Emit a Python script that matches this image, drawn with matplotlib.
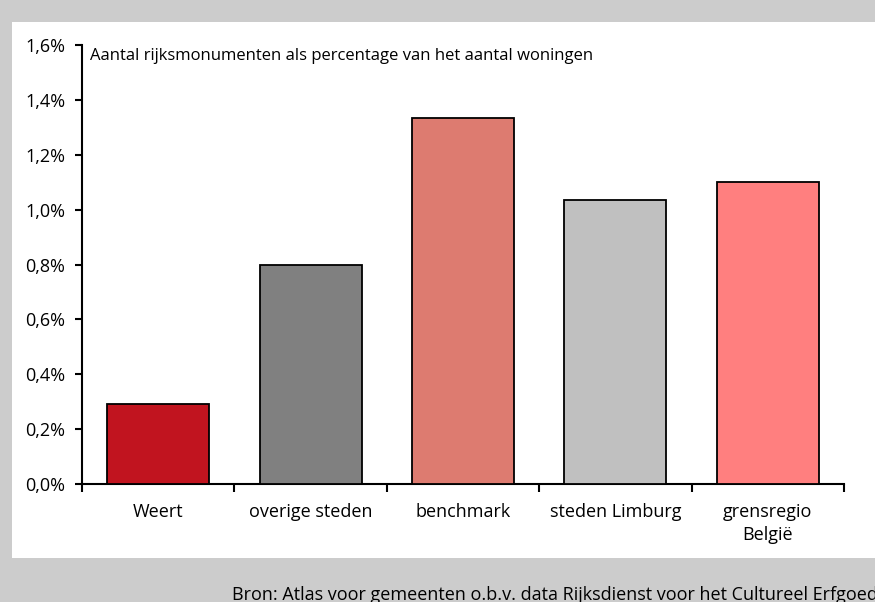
import matplotlib.pyplot as plt
from matplotlib.patches import Rectangle
from matplotlib.ticker import FuncFormatter, FixedLocator

plt.rcParams['font.family'] = ['Open Sans', 'DejaVu Sans']

categories = ["Weert", "overige steden", "benchmark", "steden Limburg", "grensregio\nBelgië"]
values = [0.29, 0.80, 1.335, 1.035, 1.10]
colors = ["#C1141F", "#808080", "#DD7B70", "#C0C0C0", "#FF7F7F"]

W, H = 875, 602
fig = plt.figure(figsize=(W / 100, H / 100), dpi=100)
fig.patch.set_facecolor("#CCCCCC")

# white panel
fig.patches.append(Rectangle((12 / W, (H - 558) / H), 1 - 12 / W, (558 - 22) / H,
                             transform=fig.transFigure, facecolor="white",
                             edgecolor="none", zorder=0))

ax = fig.add_axes([82 / W, (H - 484) / H, 762 / W, 439 / H])
ax.set_zorder(2)
ax.set_facecolor("none")

x = range(len(categories))
ax.bar(x, values, width=0.67, color=colors, edgecolor="black", linewidth=1.3, zorder=3)

ax.set_xlim(-0.5, len(categories) - 0.5)
ax.set_ylim(0, 1.6)
ax.set_yticks([0, 0.2, 0.4, 0.6, 0.8, 1.0, 1.2, 1.4, 1.6])
ax.yaxis.set_major_formatter(FuncFormatter(lambda v, p: f"{v:.1f}%".replace(".", ",")))

ax.set_xticks(list(x))
ax.set_xticklabels(categories, fontsize=13, linespacing=1.35)
ax.xaxis.set_minor_locator(FixedLocator([i - 0.5 for i in range(len(categories) + 1)]))
ax.tick_params(axis="x", which="major", length=0, pad=14)
ax.tick_params(axis="x", which="minor", length=6, width=1.5, direction="out")
ax.tick_params(axis="y", length=5, width=1.5, direction="out", labelsize=13, pad=7)

for s in ["top", "right"]:
    ax.spines[s].set_visible(False)
for s in ["left", "bottom"]:
    ax.spines[s].set_linewidth(1.5)

ax.text(0.011, 0.975, "Aantal rijksmonumenten als percentage van het aantal woningen",
        transform=ax.transAxes, fontsize=12, va="center", ha="left")

fig.text(232 / W, (H - 595) / H,
         "Bron: Atlas voor gemeenten o.b.v. data Rijksdienst voor het Cultureel Erfgoed",
         fontsize=13, ha="left", va="center", zorder=3)

fig.savefig("out.png", dpi=100, facecolor=fig.get_facecolor())
